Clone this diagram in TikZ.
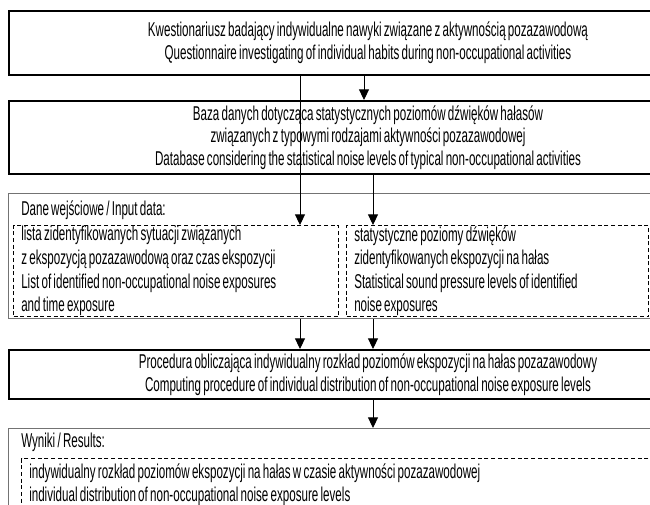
\documentclass[tikz,border=0pt]{standalone}
\usepackage{fontspec}
\setmainfont{Liberation Sans}[FakeStretch=0.58, WordSpace=0.7]
\usetikzlibrary{arrows.meta}
\newcommand{\boxfont}{\fontsize{15}{17}\selectfont}
\begin{document}
\begin{tikzpicture}[x=0.75pt, y=-0.75pt, line join=miter,
  main box/.style={draw, line width=1.5pt, anchor=north west, inner sep=0pt, minimum width=538.5pt, align=center, font=\boxfont},
  group box/.style={draw=black!55, line width=1pt, anchor=north west, inner sep=0pt, minimum width=538.5pt},
  dash box/.style={draw, line width=1pt, dash pattern=on 3pt off 2pt, anchor=north west, inner sep=0pt},
  box text/.style={anchor=west, inner sep=0pt, align=left, font=\boxfont},
  arrow/.style={-{Triangle[width=7.5pt,length=8pt]}, line width=0.7pt}]
\clip (0,0) rectangle (650,504);
\begin{scope}
\node[main box, minimum height=48pt] (quest) at (8,10) {Kwestionariusz badający indywidualne nawyki związane z aktywnością pozazawodową\\Questionnaire investigating of individual habits during non-occupational activities};
\node[main box, minimum height=54.75pt] (base) at (8,100) {Baza danych dotycząca statystycznych poziomów dźwięków hałasów\\związanych z typowymi rodzajami aktywności pozazawodowej\\Database considering the statistical noise levels of typical non-occupational activities};
% input data
\node[group box, minimum height=93.75pt] (input) at (8,193) {};
\node[box text] (inlabel) at (21,210) {Dane wejściowe / Input data:};
\node[dash box, minimum width=243.75pt, minimum height=68.25pt] (list) at (13,225) {};
\node[box text] (listtext) at ([xshift=6pt]list.west) {lista zidentyfikowanych sytuacji związanych\\[0.7pt]z ekspozycją pozazawodową oraz czas ekspozycji\\[0.7pt]List of identified non-occupational noise exposures\\[0.7pt]and time exposure};
\node[dash box, minimum width=226.5pt, minimum height=68.25pt] (levels) at (346,225) {};
\node[box text] (levelstext) at ([xshift=6pt]levels.west) {statystyczne poziomy dźwięków\\[0.7pt]zidentyfikowanych ekspozycji na hałas\\[0.7pt]Statistical sound pressure levels of identified\\[0.7pt]noise exposures};
\node[main box, minimum height=36.75pt] (proc) at (8,349) {Procedura obliczająca indywidualny rozkład poziomów ekspozycji na hałas pozazawodowy\\Computing procedure of individual distribution of non-occupational noise exposure levels};
% results
\node[group box, minimum height=84pt] (results) at (8,428) {};
\node[box text] (reslabel) at (21,442) {Wyniki / Results:};
\node[dash box, minimum width=525pt, minimum height=60pt] (distr) at (21,458) {};
\node[box text, anchor=north west] (distrtext) at ([xshift=6pt,yshift=-4pt]distr.north west) {indywidualny rozkład poziomów ekspozycji na hałas w czasie aktywności pozazawodowej\\individual distribution of non-occupational noise exposure levels};
\end{scope}
\begin{scope}
\coordinate (xl) at (300,0);
\coordinate (xm) at (364,0);
\coordinate (xr) at (373,0);
\draw[arrow] (quest.south -| xl) -- (list.north -| xl);
\draw[arrow] (quest.south -| xm) -- (base.north -| xm);
\draw[arrow] (base.south -| xr) -- (levels.north -| xr);
\draw[arrow] (input.south -| xl) -- (proc.north -| xl);
\draw[arrow] (input.south -| xr) -- (proc.north -| xr);
\draw[arrow] (proc.south -| xr) -- (results.north -| xr);
\end{scope}
\end{tikzpicture}
\end{document}
